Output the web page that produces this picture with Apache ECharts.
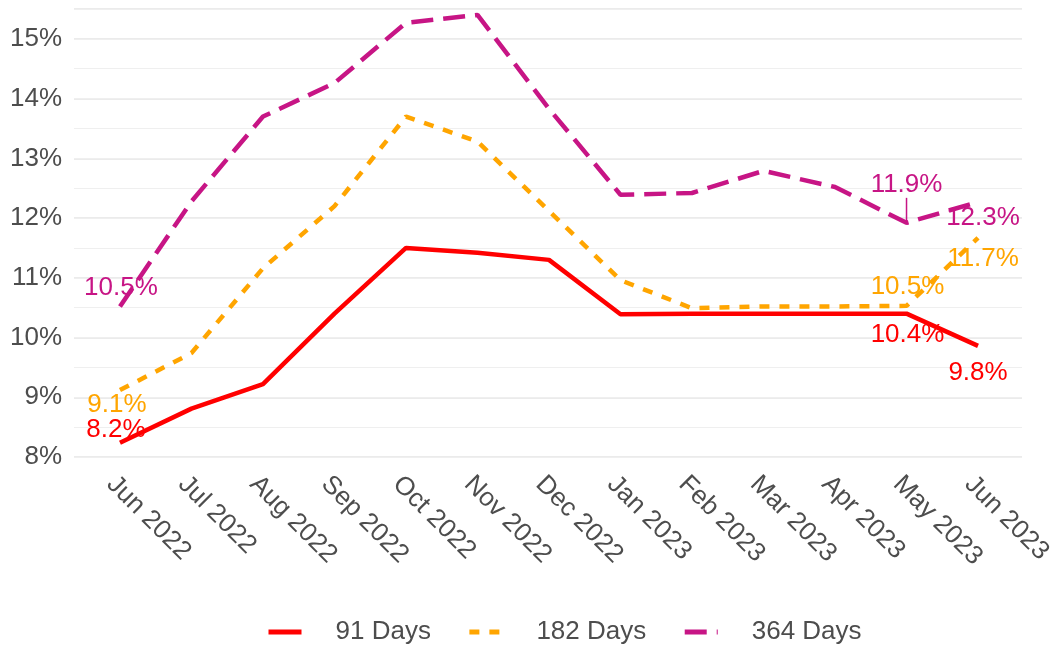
<!DOCTYPE html>
<html>
<head>
<meta charset="utf-8">
<script src="https://cdn.jsdelivr.net/npm/echarts@6/dist/echarts.min.js"></script>
<style>
html,body{margin:0;padding:0;background:#fff;}
#chart{width:1059px;height:650px;}
</style>
</head>
<body>
<div id="chart"></div>
<script>
const categories = ['Jun 2022','Jul 2022','Aug 2022','Sep 2022','Oct 2022','Nov 2022','Dec 2022','Jan 2023','Feb 2023','Mar 2023','Apr 2023','May 2023','Jun 2023'];
const days91  = [8.24, 8.81, 9.22, 10.40, 11.50, 11.42, 11.30, 10.39, 10.40, 10.40, 10.40, 10.40, 9.86];
const days182 = [9.12, 9.74, 11.16, 12.20, 13.70, 13.28, 12.12, 10.96, 10.49, 10.52, 10.52, 10.53, 11.67];
const days364 = [10.52, 12.28, 13.70, 14.26, 15.27, 15.40, 13.83, 12.39, 12.42, 12.79, 12.52, 11.92, 12.27];
const seriesNames = ['91 Days', '182 Days', '364 Days'];
const labelText = {
  '91 Days':  {0: '8.2%', 11: '10.4%', 12: '9.8%'},
  '182 Days': {0: '9.1%', 11: '10.5%', 12: '11.7%'},
  '364 Days': {0: '10.5%', 11: '11.9%', 12: '12.3%'}
};
// label displacement (style only)
const labelShift = {
  '91 Days':  {0: [-4, -13], 11: [1, 21], 12: [0, 27]},
  '182 Days': {0: [-3, 15], 11: [1, -19], 12: [5, 21]},
  '364 Days': {0: [1, -19], 11: [0, -38], 12: [5, 16]}
};
const guideLine = {'364 Days': {11: true}};
const colors = ['#FF0000', '#FFA500', '#C71585'];
const lineStyles = [
  {width: 4.5, type: 'solid'},
  {width: 4.5, type: [10, 10]},
  {width: 4.5, type: [22, 10]}
];
const values = [days91, days182, days364];
const FONT = 'Liberation Sans, Arial, sans-serif';
const FS = 26;

const chart = echarts.init(document.getElementById('chart'), null, {renderer: 'canvas'});

const series = seriesNames.map((name, s) => ({
  name: name,
  type: 'line',
  symbol: 'circle',
  symbolSize: 1,
  showSymbol: true,
  itemStyle: {color: 'rgba(0,0,0,0)'},
  lineStyle: Object.assign({color: colors[s]}, lineStyles[s]),
  z: 3 + s,
  emphasis: {disabled: true},
  labelLayout: function (p) {
    const sh = labelShift[name][p.dataIndex];
    if (!sh) return {};
    return {
      x: p.rect.x + p.rect.width / 2 + sh[0],
      y: p.rect.y + p.rect.height / 2 + sh[1],
      align: 'center',
      verticalAlign: 'middle'
    };
  },
  data: values[s].map((v, i) => {
    const item = {value: [i, v]};
    if (labelText[name][i] !== undefined) {
      item.label = {
        show: true,
        position: 'inside',
        formatter: labelText[name][i],
        color: colors[s],
        fontSize: FS,
        fontFamily: FONT
      };
      if (guideLine[name] && guideLine[name][i]) {
        item.labelLine = {show: true, lineStyle: {color: colors[s], width: 1.5}};
      }
    } else {
      item.label = {show: false};
    }
    return item;
  })
}));

chart.setOption({
  animation: false,
  backgroundColor: '#ffffff',
  grid: {left: 74, right: 37, top: 9, bottom: 193, containLabel: false},
  legend: {
    top: 614,
    left: 261,
    itemWidth: 33,
    itemHeight: 14,
    itemGap: 36,
    data: seriesNames,
    lineStyle: {width: 5},
    textStyle: {fontSize: FS, color: '#4d4d4d', fontFamily: FONT, padding: [0, 0, 0, 29]}
  },
  xAxis: {
    type: 'value',
    min: -0.643,
    max: 12.615,
    axisLine: {show: false},
    axisTick: {show: false},
    splitLine: {show: false},
    axisLabel: {
      customValues: categories.map((c, i) => i),
      formatter: v => categories[Math.round(v)] || '',
      rotate: -45,
      fontSize: FS,
      color: '#4d4d4d',
      fontFamily: FONT,
      verticalAlign: 'top',
      margin: 14
    }
  },
  yAxis: [{
    type: 'value',
    min: 8,
    max: 15.5,
    interval: 1,
    axisLine: {show: false},
    axisTick: {show: false},
    splitLine: {show: true, lineStyle: {color: '#ebebeb', width: 2}},
    axisLabel: {
      formatter: v => (Math.abs(v - Math.round(v)) < 1e-6 ? Math.round(v) + '%' : ''),
      fontSize: FS,
      color: '#4d4d4d',
      fontFamily: FONT,
      margin: 12
    }
  }, {
    type: 'value',
    min: 8,
    max: 15.5,
    interval: 0.5,
    position: 'left',
    axisLine: {show: false},
    axisTick: {show: false},
    axisLabel: {show: false},
    splitLine: {show: true, lineStyle: {color: '#efefef', width: 1}}
  }],
  series: series
});
</script>
</body>
</html>
